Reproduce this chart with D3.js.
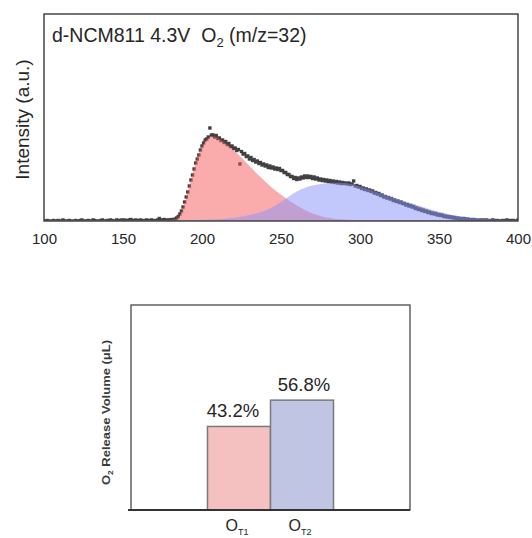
<!DOCTYPE html>
<html>
<head>
<meta charset="utf-8">
<script src="https://cdn.jsdelivr.net/npm/d3@7"></script>
<style>
  html, body { margin: 0; padding: 0; background: #fff; }
  svg { display: block; font-family: "Liberation Sans", Arial, sans-serif; }
  text { white-space: pre; }
</style>
</head>
<body>
<svg id="fig" width="532" height="538"></svg>
<script>
// ---- MS trace: O2 (m/z = 32) signal, one reading per degree from 100 to 400 ----
const tempStart = 100;
const tempEnd = 400;
const o2Signal = [
  0, -0.5, 0.5, 0, -1, 0, 0.5, -0.5, 0, 0.5,
  -0.5, 0, 1, 0, -0.5, 0, 0.5, 0, -1, 0,
  0.5, 0, -0.5, 0.5, 1, 0, -0.5, 0, 0.5, -0.5,
  0, 1, 0.5, 0, -0.5, 0, 0.5, 1, 0, -0.5,
  0.5, 0, 1, 0.5, 0, -0.5, 1, 0.5, 0, 1,
  0.5, 1, 0, 0.5, 1, 1.5, 0.5, 0, 1, 0.5,
  0, 1, 0.5, 0, 0.5, 1, 0, 0.5, 1, 0.5,
  0, 0.5, 1, 2.5, 0.5, 1, 1.5, 1, 0.5, 1,
  1, 1.5, 1, 2, 3, 4.5, 7, 10, 14, 19,
  24, 29, 35, 41, 46, 52, 58, 62, 66, 71,
  75, 78, 81, 82, 84, 93, 86, 86, 84, 85.5,
  82.5, 83, 80.5, 81, 78.5, 79.5, 76.5, 77.5, 74.5, 75,
  72.5, 73, 70.5, 71.5, 57, 69.5, 67, 67.5, 64.5, 65,
  62, 63.5, 60.5, 61.5, 59, 60, 57.5, 58.5, 56, 57,
  55, 56, 53.5, 55, 53, 54, 52, 53, 51.5, 52.5,
  50.5, 50.5, 48.5, 48.5, 46.5, 46.5, 44.5, 44.5, 42.5, 43.5,
  41.5, 43, 42, 44, 43, 45, 43.5, 45, 43.5, 44.5,
  42.5, 44, 42, 43, 41, 42, 40.5, 41.5, 40, 41,
  39.5, 40.5, 39, 40, 38.5, 39.5, 38, 39, 37.5, 38.5,
  37.5, 38, 37, 38, 36.5, 37, 40, 35, 35.5, 34,
  34.5, 32.5, 33, 31.5, 32, 30.5, 31, 29.5, 30, 28,
  28.5, 27, 27.5, 25.5, 26, 24, 24.5, 23, 23.5, 22,
  22.5, 20.5, 21, 19.5, 20, 18.5, 19, 17.5, 17.5, 16,
  16.5, 15, 15.5, 14, 14.5, 12.5, 13, 11.5, 12, 10.5,
  11, 9.5, 10, 8.5, 9, 7.5, 8, 7, 7.5, 6,
  6.5, 5.5, 6, 4.5, 5, 4, 4.5, 3.5, 4, 3,
  3.5, 2.5, 3, 2, 2.5, 1.5, 2.5, 1, 2, 1,
  1.5, 0.5, 1.5, 0.5, 1, 0, 1, 0.5, 1, 0,
  1, 0.5, 0, 0.5, 1, 0.5, 0, 0.5, 0, -0.5,
  0.5, 0, 0.5, 1, 0, 0.5, 0, 0.5, -0.5, 0,
  1
];

// ---- Deconvoluted peaks (OT1 low-temperature, OT2 high-temperature) ----
const fitTemps = [
  100, 150, 170, 178,
  182, 184, 186, 188, 190, 192, 194, 196, 198, 200, 202, 204, 206, 208, 210,
  213, 216, 219, 222, 225, 228, 231, 234, 237, 240, 243, 246, 249, 252, 255,
  260, 265, 270, 275, 280, 285, 290, 295, 300, 305, 310, 315, 320, 325, 330,
  335, 340, 345, 350, 355, 360, 365, 370, 375, 380, 385, 390, 395, 400
];
const fitOT1 = [
  1, 1, 1, 1.1,
  1.5, 2.5, 6, 13, 23, 35, 47, 58, 67, 74, 79.5, 83, 84.5, 84.5, 83,
  80, 76.5, 72.5, 68, 63.5, 58.5, 53.5, 48.5, 44, 39.5, 35, 31, 27.5, 24, 20.5,
  15.5, 11, 7.5, 5, 3.2, 2, 1.4, 1.1, 1, 1, 1, 1, 1, 1, 1,
  1, 1, 1, 1, 1, 1, 1, 1, 1, 1, 1, 1, 1, 1
];
const fitOT2 = [
  1, 1, 1, 1,
  1, 1, 1, 1, 1, 1, 1, 1.1, 1.1, 1.2, 1.3, 1.4, 1.5, 1.6, 1.8,
  2.1, 2.5, 3, 3.6, 4.3, 5.2, 6.2, 7.4, 8.8, 10.5, 12.5, 15, 18, 21, 24.5,
  29.5, 33, 35.5, 37, 38, 38.3, 38, 36.8, 34.5, 32, 29.3, 26.7, 24, 21.5, 19,
  16.5, 14, 11.5, 9.2, 7.3, 5.6, 4.3, 3.3, 2.5, 1.9, 1.4, 1.2, 1.1, 1
];
const xTicks = [100, 150, 200, 250, 300, 350, 400];

// ---- O2 release split between the two peaks ----
const barCats = ["T1", "T2"];
const barValues = [43.2, 56.8];
const barLabels = ["43.2%", "56.8%"];

const svg = d3.select("#fig");
const ink = "#262626";

// ================= Top panel: MS profile =================
const msBox = { left: 44, right: 518, top: 14, bottom: 221 };
const x = d3.scaleLinear().domain([tempStart, tempEnd]).range([msBox.left, msBox.right]);
const y = d3.scaleLinear().domain([0, 207]).range([msBox.bottom, msBox.top]);

svg.append("defs").append("clipPath").attr("id", "plotClip")
  .append("rect")
  .attr("x", msBox.left).attr("y", msBox.top)
  .attr("width", msBox.right - msBox.left).attr("height", msBox.bottom - msBox.top);

const signalPts = o2Signal.map((v, i) => ({ t: tempStart + i, v }));
const fitPts = key => fitTemps.map((t, i) => ({ t, v: key[i] }));

const plot = svg.append("g").attr("clip-path", "url(#plotClip)");

// measured points
plot.append("g").selectAll("rect")
  .data(signalPts)
  .join("rect")
  .attr("x", d => x(d.t) - 1.7)
  .attr("y", d => y(d.v) - 1.7)
  .attr("width", 3.4).attr("height", 3.4)
  .attr("fill", "#404040");

// fitted peak areas, translucent over the points
const area = d3.area()
  .x(d => x(d.t))
  .y0(y(0))
  .y1(d => y(d.v))
  .curve(d3.curveMonotoneX);

plot.append("path")
  .attr("d", area(fitPts(fitOT1)))
  .attr("fill", "rgb(245,90,90)")
  .attr("fill-opacity", 0.5);

plot.append("path")
  .attr("d", area(fitPts(fitOT2)))
  .attr("fill", "rgb(135,145,250)")
  .attr("fill-opacity", 0.5);

// frame
svg.append("rect")
  .attr("x", msBox.left).attr("y", msBox.top)
  .attr("width", msBox.right - msBox.left).attr("height", msBox.bottom - msBox.top)
  .attr("fill", "none").attr("stroke", "#3a3a3a").attr("stroke-width", 1.4);

// x axis labels
const xAxis = svg.append("g")
  .attr("transform", `translate(0,${msBox.bottom})`)
  .call(d3.axisBottom(x).tickValues(xTicks).tickSize(0).tickPadding(12).tickFormat(d3.format("d")));
xAxis.select(".domain").remove();
xAxis.selectAll("text")
  .attr("fill", ink)
  .style("font-size", "15px")
  .style("font-family", "'Liberation Sans', Arial, sans-serif");

// y axis title
svg.append("text")
  .attr("transform", `translate(29,${(msBox.top + msBox.bottom) / 2 + 2}) rotate(-90)`)
  .attr("text-anchor", "middle")
  .attr("fill", ink)
  .style("font-size", "19px")
  .text("Intensity (a.u.)");

// panel title
const title = svg.append("text")
  .attr("x", 52).attr("y", 42)
  .attr("fill", ink)
  .style("font-size", "19.5px");
title.append("tspan").text("d-NCM811 4.3V  O");
title.append("tspan").attr("dy", 5).style("font-size", "13px").text("2");
title.append("tspan").attr("dy", -5).text(" (m/z=32)");

// ================= Bottom panel: release volume =================
const volBox = { left: 131, right: 410, top: 305, bottom: 510 };
const bx = d3.scaleBand()
  .domain(barCats)
  .range([volBox.left, volBox.right])
  .paddingInner(0)
  .paddingOuter(1.214);
const by = d3.scaleLinear().domain([0, 106]).range([volBox.bottom, volBox.top]);
const barFill = ["#f5c0c0", "#c0c5e4"];

svg.append("rect")
  .attr("x", volBox.left).attr("y", volBox.top)
  .attr("width", volBox.right - volBox.left).attr("height", volBox.bottom - volBox.top)
  .attr("fill", "none").attr("stroke", "#4a4a4a").attr("stroke-width", 1.3);

svg.append("g").selectAll("rect")
  .data(barValues)
  .join("rect")
  .attr("x", (d, i) => bx(barCats[i]))
  .attr("y", d => by(d))
  .attr("width", bx.bandwidth())
  .attr("height", d => by(0) - by(d))
  .attr("fill", (d, i) => barFill[i])
  .attr("stroke", "#7a7a7a")
  .attr("stroke-width", 1.5);

// baseline axis
svg.append("line")
  .attr("x1", volBox.left - 3).attr("x2", volBox.right)
  .attr("y1", volBox.bottom).attr("y2", volBox.bottom)
  .attr("stroke", "#333").attr("stroke-width", 2);

// value labels
svg.append("g").selectAll("text")
  .data(barValues)
  .join("text")
  .attr("x", (d, i) => bx(barCats[i]) + bx.bandwidth() / 2 - (i === 0 ? 6 : -2))
  .attr("y", d => by(d) - 9)
  .attr("text-anchor", "middle")
  .attr("fill", ink)
  .style("font-size", "18.5px")
  .text((d, i) => barLabels[i]);

// category labels O with subscript
const cat = svg.append("g").selectAll("text")
  .data(barCats)
  .join("text")
  .attr("x", d => bx(d) + bx.bandwidth() / 2 - 2)
  .attr("y", 531)
  .attr("text-anchor", "middle")
  .attr("fill", ink)
  .style("font-size", "16px");
cat.append("tspan").text("O");
cat.append("tspan").attr("dy", 4).style("font-size", "9px").text(d => d);

// y axis title
const yt = svg.append("text")
  .attr("transform", `translate(110,${(volBox.top + volBox.bottom) / 2 + 5}) rotate(-90)`)
  .attr("text-anchor", "middle")
  .attr("fill", "#3a3a3a")
  .attr("textLength", 145)
  .attr("lengthAdjust", "spacingAndGlyphs")
  .style("font-size", "11px")
  .style("font-weight", "bold");
yt.append("tspan").text("O");
yt.append("tspan").attr("dy", 3).style("font-size", "7px").text("2");
yt.append("tspan").attr("dy", -3).text(" Release Volume (μL)");
</script>
</body>
</html>
